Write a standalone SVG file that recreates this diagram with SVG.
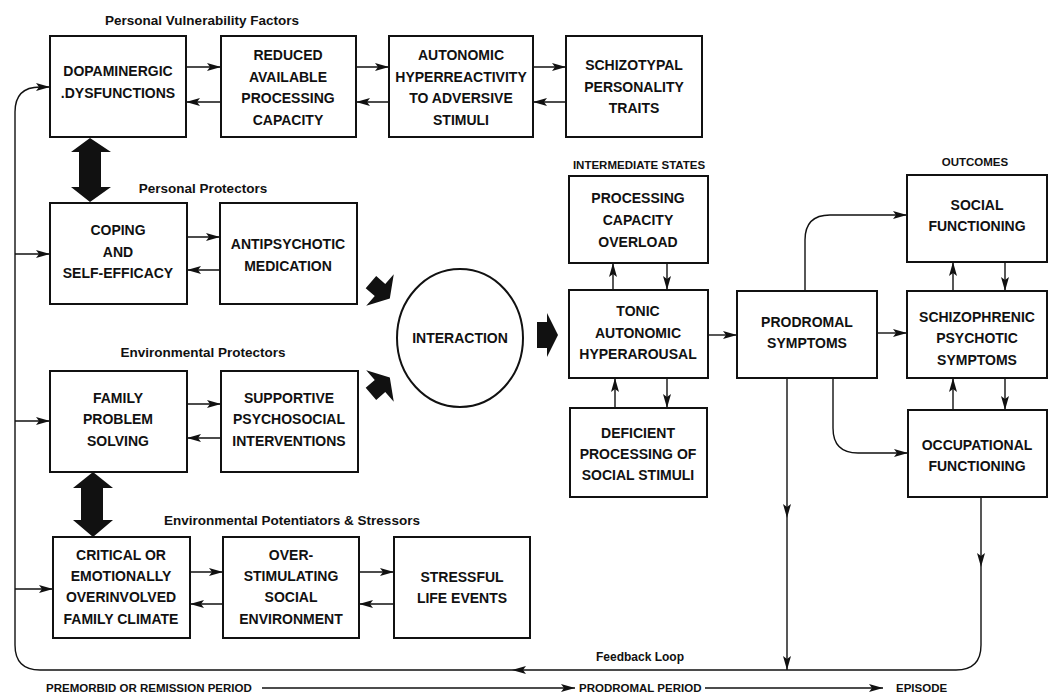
<svg xmlns="http://www.w3.org/2000/svg" width="1053" height="694" viewBox="0 0 1053 694">
<style>
.box{fill:#fff;stroke:#111;stroke-width:2}
.t{font-family:"Liberation Sans",Arial,sans-serif;font-weight:bold;font-size:14px;fill:#111;text-anchor:middle}
.h{font-family:"Liberation Sans",Arial,sans-serif;font-weight:bold;font-size:13.5px;fill:#111;text-anchor:middle}
.s{font-family:"Liberation Sans",Arial,sans-serif;font-weight:bold;font-size:11.5px;fill:#111}
.c{fill:none;stroke:#111;stroke-width:1.4}
.big{fill:#111}
</style>
<defs>
<marker id="a" markerUnits="userSpaceOnUse" markerWidth="16" markerHeight="10" refX="14" refY="4" orient="auto">
<path d="M0,0 L14,4 L0,8 L3,4 z" fill="#111"/>
</marker>
</defs>
<rect width="1053" height="694" fill="#fff"/>

<!-- section labels -->
<text class="h" x="202" y="25">Personal Vulnerability Factors</text>
<text class="h" x="203" y="193">Personal Protectors</text>
<text class="h" x="203" y="357">Environmental Protectors</text>
<text class="h" x="292" y="525">Environmental Potentiators &amp; Stressors</text>
<text class="h" x="639" y="169" style="font-size:11.5px">INTERMEDIATE STATES</text>
<text class="h" x="975" y="166" style="font-size:11.5px">OUTCOMES</text>
<text class="h" x="640" y="661" style="font-size:12px">Feedback Loop</text>
<text class="s" x="46" y="692">PREMORBID OR REMISSION PERIOD</text>
<text class="s" x="579" y="692">PRODROMAL PERIOD</text>
<text class="s" x="896" y="692">EPISODE</text>

<g id="connectors">
<!-- top row -->
<path class="c" d="M186,67 L221,67" marker-end="url(#a)"/>
<path class="c" d="M221,102 L186,102" marker-end="url(#a)"/>
<path class="c" d="M356,67 L389,67" marker-end="url(#a)"/>
<path class="c" d="M389,102 L356,102" marker-end="url(#a)"/>
<path class="c" d="M533,67 L566,67" marker-end="url(#a)"/>
<path class="c" d="M566,102 L533,102" marker-end="url(#a)"/>
<!-- row 2 -->
<path class="c" d="M187,237 L220,237" marker-end="url(#a)"/>
<path class="c" d="M220,270 L187,270" marker-end="url(#a)"/>
<!-- row 3 -->
<path class="c" d="M187,404 L221,404" marker-end="url(#a)"/>
<path class="c" d="M221,438 L187,438" marker-end="url(#a)"/>
<!-- row 4 -->
<path class="c" d="M190,572 L223,572" marker-end="url(#a)"/>
<path class="c" d="M223,604 L190,604" marker-end="url(#a)"/>
<path class="c" d="M359,572 L394,572" marker-end="url(#a)"/>
<path class="c" d="M394,604 L359,604" marker-end="url(#a)"/>
<!-- intermediate -->
<path class="c" d="M613,290 L613,263" marker-end="url(#a)"/>
<path class="c" d="M667,263 L667,290" marker-end="url(#a)"/>
<path class="c" d="M615,408 L615,378" marker-end="url(#a)"/>
<path class="c" d="M667,378 L667,408" marker-end="url(#a)"/>
<path class="c" d="M708,335 L737,335" marker-end="url(#a)"/>
<path class="c" d="M877,333 L907,333" marker-end="url(#a)"/>
<!-- outcomes -->
<path class="c" d="M953,291 L953,262" marker-end="url(#a)"/>
<path class="c" d="M1005,262 L1005,291" marker-end="url(#a)"/>
<path class="c" d="M953,410 L953,378" marker-end="url(#a)"/>
<path class="c" d="M1005,378 L1005,410" marker-end="url(#a)"/>
<path class="c" d="M805,291 L805,240 Q805,215 830,215 L907,215" marker-end="url(#a)"/>
<path class="c" d="M833,378 L833,428 Q833,453 858,453 L908,453" marker-end="url(#a)"/>
<path class="c" d="M787,378 L787,518" marker-end="url(#a)"/>
<path class="c" d="M787,518 L787,670" marker-end="url(#a)"/>
<!-- feedback loop -->
<path class="c" d="M981,497 L981,567" marker-end="url(#a)"/>
<path class="c" d="M981,567 L981,645 Q981,670 956,670 L512,670" marker-end="url(#a)"/>
<path class="c" d="M512,670 L40,670 Q15,670 15,645 L15,112 Q15,87 40,87 L50,87" marker-end="url(#a)"/>
<path class="c" d="M15,254 L50,254" marker-end="url(#a)"/>
<path class="c" d="M15,421 L50,421" marker-end="url(#a)"/>
<path class="c" d="M15,589 L53,589" marker-end="url(#a)"/>
<!-- period timeline -->
<path class="c" d="M262,688 L575,688" marker-end="url(#a)"/>
<path class="c" d="M705,688 L883,688" marker-end="url(#a)"/>
<!-- big arrows -->
<polygon class="big" points="90,138 111,152 101,152 101,187 111,187 90,202 71,187 79,187 79,152 71,152"/>
<polygon class="big" points="93,472 113,488 103,488 103,520 113,520 93,537 73,520 81,520 81,488 73,488"/>
<path class="big" transform="translate(380,290) rotate(41)" d="M-12,-8 L0,-8 L0,-21 L13,0 L0,21 L0,8 L-12,8 z"/>
<path class="big" transform="translate(380,386) rotate(-41)" d="M-12,-8 L0,-8 L0,-21 L13,0 L0,21 L0,8 L-12,8 z"/>
<polygon class="big" points="537,322 547,322 547,313 558,335 547,357 547,348 537,348"/>
</g>

<g id="dopaminergic"><rect class="box" x="50" y="36" width="136" height="101"/>
<text class="t" x="118" y="76">DOPAMINERGIC</text><text class="t" x="118" y="98">.DYSFUNCTIONS</text></g>
<g id="reduced"><rect class="box" x="221" y="36" width="135" height="101"/>
<text class="t" x="288" y="60">REDUCED</text><text class="t" x="288" y="82">AVAILABLE</text><text class="t" x="288" y="103">PROCESSING</text><text class="t" x="288" y="125">CAPACITY</text></g>
<g id="autonomic"><rect class="box" x="389" y="36" width="144" height="101"/>
<text class="t" x="461" y="60">AUTONOMIC</text><text class="t" x="461" y="82">HYPERREACTIVITY</text><text class="t" x="461" y="103">TO ADVERSIVE</text><text class="t" x="461" y="125">STIMULI</text></g>
<g id="schizotypal"><rect class="box" x="566" y="36" width="136" height="101"/>
<text class="t" x="634" y="70">SCHIZOTYPAL</text><text class="t" x="634" y="92">PERSONALITY</text><text class="t" x="634" y="113">TRAITS</text></g>

<g id="coping"><rect class="box" x="50" y="203" width="137" height="101"/>
<text class="t" x="118" y="235">COPING</text><text class="t" x="118" y="257">AND</text><text class="t" x="118" y="278">SELF-EFFICACY</text></g>
<g id="antipsychotic"><rect class="box" x="220" y="203" width="137" height="101"/>
<text class="t" x="288" y="249">ANTIPSYCHOTIC</text><text class="t" x="288" y="271">MEDICATION</text></g>

<g id="family"><rect class="box" x="50" y="371" width="137" height="101"/>
<text class="t" x="118" y="403">FAMILY</text><text class="t" x="118" y="424">PROBLEM</text><text class="t" x="118" y="446">SOLVING</text></g>
<g id="supportive"><rect class="box" x="221" y="371" width="137" height="101"/>
<text class="t" x="289" y="403">SUPPORTIVE</text><text class="t" x="289" y="424">PSYCHOSOCIAL</text><text class="t" x="289" y="446">INTERVENTIONS</text></g>

<g id="critical"><rect class="box" x="53" y="537" width="137" height="101"/>
<text class="t" x="121" y="560">CRITICAL OR</text><text class="t" x="121" y="581">EMOTIONALLY</text><text class="t" x="121" y="602">OVERINVOLVED</text><text class="t" x="121" y="624">FAMILY CLIMATE</text></g>
<g id="overstimulating"><rect class="box" x="223" y="537" width="136" height="101"/>
<text class="t" x="291" y="560">OVER-</text><text class="t" x="291" y="581">STIMULATING</text><text class="t" x="291" y="602">SOCIAL</text><text class="t" x="291" y="624">ENVIRONMENT</text></g>
<g id="stressful"><rect class="box" x="394" y="537" width="136" height="101"/>
<text class="t" x="462" y="582">STRESSFUL</text><text class="t" x="462" y="603">LIFE EVENTS</text></g>

<g id="interaction"><ellipse cx="460" cy="338" rx="63" ry="69" fill="#fff" stroke="#111" stroke-width="2"/>
<text class="t" x="460" y="343">INTERACTION</text></g>

<g id="overload"><rect class="box" x="569" y="176" width="139" height="87"/>
<text class="t" x="638" y="203">PROCESSING</text><text class="t" x="638" y="225">CAPACITY</text><text class="t" x="638" y="247">OVERLOAD</text></g>
<g id="tonic"><rect class="box" x="569" y="290" width="139" height="88"/>
<text class="t" x="638" y="316">TONIC</text><text class="t" x="638" y="338">AUTONOMIC</text><text class="t" x="638" y="359">HYPERAROUSAL</text></g>
<g id="deficient"><rect class="box" x="570" y="408" width="137" height="89"/>
<text class="t" x="638" y="438">DEFICIENT</text><text class="t" x="638" y="459">PROCESSING OF</text><text class="t" x="638" y="480">SOCIAL STIMULI</text></g>

<g id="prodromal"><rect class="box" x="737" y="291" width="140" height="87"/>
<text class="t" x="807" y="327">PRODROMAL</text><text class="t" x="807" y="348">SYMPTOMS</text></g>

<g id="social"><rect class="box" x="907" y="175" width="140" height="87"/>
<text class="t" x="977" y="210">SOCIAL</text><text class="t" x="977" y="231">FUNCTIONING</text></g>
<g id="schizophrenic"><rect class="box" x="907" y="291" width="140" height="87"/>
<text class="t" x="977" y="322">SCHIZOPHRENIC</text><text class="t" x="977" y="343">PSYCHOTIC</text><text class="t" x="977" y="365">SYMPTOMS</text></g>
<g id="occupational"><rect class="box" x="908" y="410" width="139" height="87"/>
<text class="t" x="977" y="450">OCCUPATIONAL</text><text class="t" x="977" y="471">FUNCTIONING</text></g>
</svg>
